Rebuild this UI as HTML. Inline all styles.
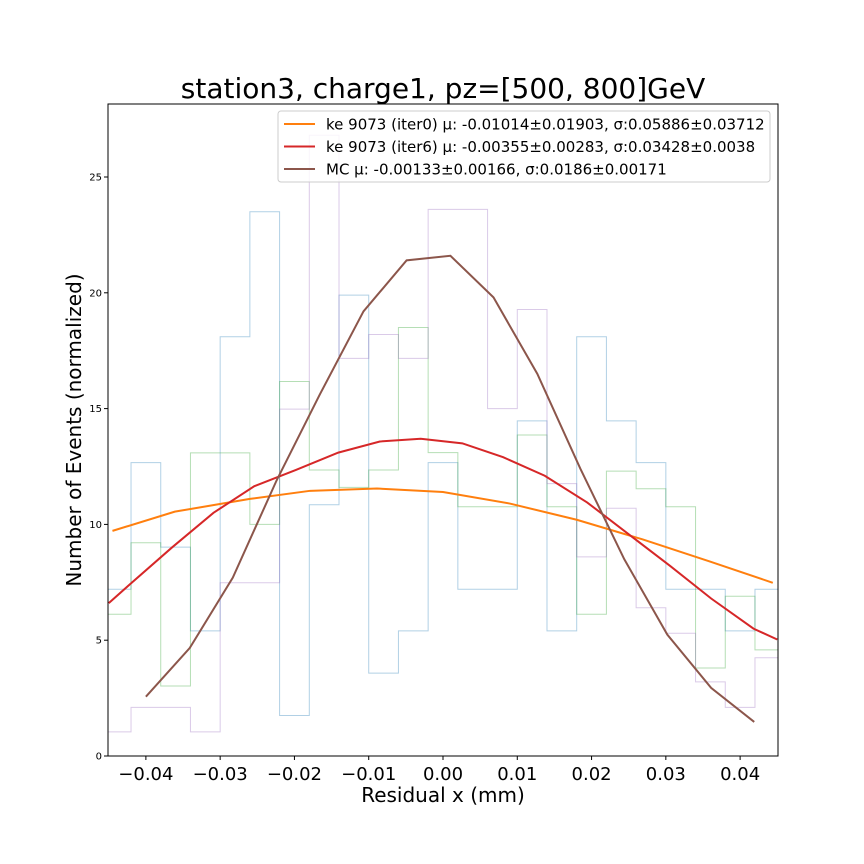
<!DOCTYPE html>
<html><head><meta charset="utf-8"><style>
body{margin:0;background:#fff;}
svg{display:block;font-family:"DejaVu Sans","Liberation Sans",sans-serif;}
</style></head><body>
<svg id="chart" width="864" height="864" viewBox="0 0 864 864"></svg>
<script>
const binStart=-0.046, binWidth=0.004;
const histBlue=[7.2,12.67,9.02,5.4,18.1,23.5,1.75,10.85,19.9,3.58,5.4,12.67,7.2,7.2,14.47,5.4,18.1,14.47,12.67,7.2,7.2,5.4,7.2];
const histGreen=[6.12,9.21,3.02,13.09,13.09,10.0,16.17,12.35,11.6,12.35,18.5,13.1,10.76,10.76,13.86,10.76,6.12,12.3,11.54,10.76,3.8,6.9,4.58];
const histPurple=[1.04,2.1,2.1,1.04,7.48,7.48,14.98,26.8,17.17,18.2,17.17,23.6,23.6,15.0,19.28,11.76,8.6,10.7,6.4,5.3,3.2,2.1,4.24];
const orangeX=[-0.0445,-0.0361,-0.0260,-0.0179,-0.0089,0.0,0.0090,0.0180,0.0269,0.0359,0.0444];
const orangeY=[9.72,10.55,11.1,11.45,11.55,11.4,10.9,10.2,9.35,8.4,7.48];
const redX=[-0.045,-0.0422,-0.0365,-0.0309,-0.0254,-0.0198,-0.0141,-0.0085,-0.0030,0.0026,0.0081,0.0137,0.0194,0.0249,0.0306,0.0361,0.0418,0.045];
const redY=[6.6,7.4,9.0,10.5,11.65,12.35,13.1,13.58,13.7,13.5,12.9,12.1,10.95,9.6,8.2,6.8,5.5,5.03];
const mcX=[-0.0400,-0.0341,-0.0283,-0.0224,-0.0166,-0.0107,-0.0049,0.0010,0.0068,0.0127,0.0185,0.0244,0.0302,0.0361,0.0419];
const mcY=[2.56,4.66,7.7,11.9,15.6,19.2,21.4,21.6,19.8,16.5,12.4,8.5,5.24,2.94,1.47];
const xTicks=[-0.04,-0.03,-0.02,-0.01,0.0,0.01,0.02,0.03,0.04];
const xTickLabels=["\u22120.04","\u22120.03","\u22120.02","\u22120.01","0.00","0.01","0.02","0.03","0.04"];
const yTicks=[0,5,10,15,20,25];
const legendLabels=["ke 9073 (iter0) \u03bc: -0.01014\u00b10.01903, \u03c3:0.05886\u00b10.03712","ke 9073 (iter6) \u03bc: -0.00355\u00b10.00283, \u03c3:0.03428\u00b10.0038","MC \u03bc: -0.00133\u00b10.00166, \u03c3:0.0186\u00b10.00171"];

const L=108,R=778,T=104,B=756;
const xMin=-0.0451,xMax=0.0451,yMax=(756-104)/23.16;
const sx=v=>L+(v-xMin)/(xMax-xMin)*(R-L);
const sy=v=>B-v/yMax*(B-T);
const NS="http://www.w3.org/2000/svg";
const svg=document.getElementById('chart');
function mk(tag,attrs,parent){const e=document.createElementNS(NS,tag);for(const k in attrs)e.setAttribute(k,attrs[k]);(parent||svg).appendChild(e);return e;}

const defs=mk('defs',{});const cp=mk('clipPath',{id:'clip'},defs);mk('rect',{x:L,y:T,width:R-L,height:B-T},cp);
const plot=mk('g',{'clip-path':'url(#clip)'});



function hist(vals,color,name){
  let d='M'+sx(binStart)+','+sy(0);
  vals.forEach((v,i)=>{const x0=sx(binStart+i*binWidth),x1=sx(binStart+(i+1)*binWidth);d+=' L'+x0+','+sy(v)+' L'+x1+','+sy(v);});
  d+=' L'+sx(binStart+vals.length*binWidth)+','+sy(0);
  const p=mk('path',{d:d,fill:'none',stroke:color,'stroke-opacity':0.35,'stroke-width':1},plot);
  
  
}
hist(histBlue,'#1f77b4','histogram-blue');
hist(histGreen,'#2ca02c','histogram-green');
hist(histPurple,'#9467bd','histogram-purple');

function line(xs,ys,color,name){
  const p=mk('polyline',{points:xs.map((x,i)=>sx(x)+','+sy(ys[i])).join(' '),fill:'none',stroke:color,'stroke-width':2},plot);
  
  
}
line(orangeX,orangeY,'#ff7f0e','line-iter0');
line(redX,redY,'#d62728','line-iter6');
line(mcX,mcY,'#8c564b','line-mc');

const frame=mk('rect',{x:L,y:T,width:R-L,height:B-T,fill:'none',stroke:'#000','stroke-width':1});



xTicks.forEach((v,i)=>{
  mk('line',{x1:sx(v),x2:sx(v),y1:B,y2:B+4,stroke:'#000'});
  const t=mk('text',{x:sx(v),y:B+24,'text-anchor':'middle','font-size':18});
  t.textContent=xTickLabels[i];
  
  
});
yTicks.forEach(v=>{
  mk('line',{x1:L-4,x2:L,y1:sy(v),y2:sy(v),stroke:'#000'});
  const t=mk('text',{x:L-6,y:sy(v)+3.5,'text-anchor':'end','font-size':10});
  t.textContent=v;
  
  
});

const title=mk('text',{x:443,y:98,'text-anchor':'middle','font-size':28});
title.textContent='station3, charge1, pz=[500, 800]GeV';


const xl=mk('text',{x:443,y:802,'text-anchor':'middle','font-size':20});
xl.textContent='Residual x (mm)';


const yl=mk('text',{x:81,y:430,'text-anchor':'middle','font-size':20,transform:'rotate(-90 81 430)'});
yl.textContent='Number of Events (normalized)';



const lg=mk('g',{});


mk('rect',{x:278,y:111,width:492,height:71,rx:3,fill:'#fff','fill-opacity':0.8,stroke:'#ccc'},lg);
const lc=['#ff7f0e','#d62728','#8c564b'];
legendLabels.forEach((s,i)=>{
  const y=124+i*22.5;
  mk('line',{x1:284,x2:315,y1:y,y2:y,stroke:lc[i],'stroke-width':2},lg);
  const t=mk('text',{x:326,y:y+5.5,'font-size':15},lg);
  t.textContent=s;
  
  
});
</script>
</body></html>
